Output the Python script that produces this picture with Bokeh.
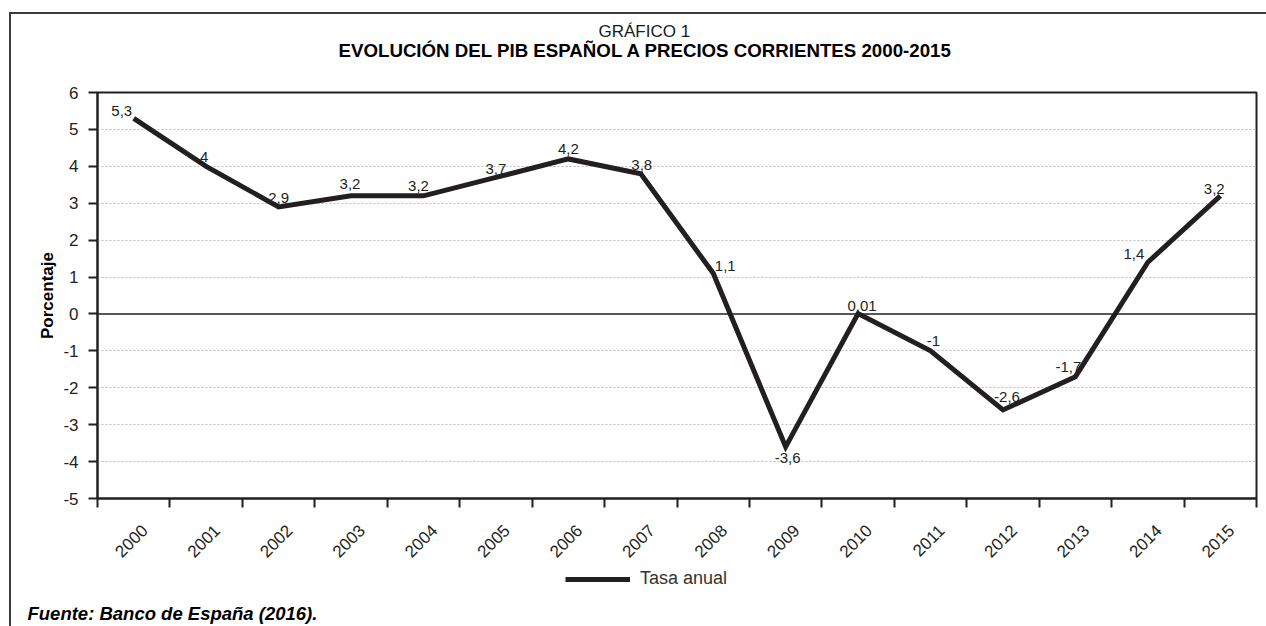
from math import pi
from bokeh.plotting import figure
from bokeh.layouts import column
from bokeh.models import (FixedTicker, Range1d, Span, Title, Label,
                          Legend, LegendItem, ColumnDataSource)
from bokeh.core.properties import value
from bokeh.embed import file_html
from bokeh.resources import INLINE

# ---------------- data ----------------
years = ["2000", "2001", "2002", "2003", "2004", "2005", "2006", "2007",
         "2008", "2009", "2010", "2011", "2012", "2013", "2014", "2015"]
tasa_anual = [5.3, 4, 2.9, 3.2, 3.2, 3.7, 4.2, 3.8, 1.1, -3.6, 0.01, -1,
              -2.6, -1.7, 1.4, 3.2]
y_ticks = [-5, -4, -3, -2, -1, 0, 1, 2, 3, 4, 5, 6]
title_top = "GRÁFICO 1"
title_main = "EVOLUCIÓN DEL PIB ESPAÑOL A PRECIOS CORRIENTES 2000-2015"
y_title = "Porcentaje"
series_name = "Tasa anual"
source_note = "Fuente: Banco de España (2016)."

# ---------------- label placement (style, pixels) ----------------
label_dx = [-12, -2, 0, -1, -5, 0, 0, 1, 12, 2, 4, 3, 4, -7, -14, -6]
label_gap = [7, 9, 9, 12, 10, 8, 10, 9, 7, 6, 8, 10, 13, 10, 8, 7]
labels_below = ["2009"]
TICK_LABEL_SHIFT = 0.15   # year labels sit slightly right of the category centre

FONT = "Liberation Sans"
INK = "#231f20"
BORDER = "#3c3c3c"
W, H = 1266, 626
H_FOOT = 61

idx = list(range(len(years)))
texts = [f"{v:g}".replace(".", ",") for v in tasa_anual]
below = [y in labels_below for y in years]
src = ColumnDataSource(dict(
    x=idx, y=tasa_anual, t=texts, dx=label_dx,
    dy=[g if b else -g for g, b in zip(label_gap, below)],
    base=["top" if b else "alphabetic" for b in below],
))

# ---------------- main chart ----------------
p = figure(width=W, height=H - H_FOOT, output_backend="svg", toolbar_location=None,
           x_range=Range1d(-0.5, len(years) - 0.5),
           y_range=Range1d(min(y_ticks), max(y_ticks)),
           min_border_left=97, min_border_right=10,
           min_border_top=92, min_border_bottom=H - H_FOOT - 499)
p.frame_align = False
p.background_fill_color = "white"
p.border_fill_color = None
p.outline_line_color = INK
p.outline_line_width = 2

# grid
p.xgrid.visible = False
p.ygrid.ticker = FixedTicker(ticks=[t for t in y_ticks if t not in (min(y_ticks), 0, max(y_ticks))])
p.ygrid.grid_line_color = "#bdbdbd"
p.ygrid.grid_line_dash = "2 2"
p.ygrid.grid_line_width = 1

# x axis: tick marks on category boundaries, labels near category centres
label_pos = [i + TICK_LABEL_SHIFT for i in idx]
xa = p.xaxis[0]
xa.ticker = FixedTicker(ticks=label_pos, minor_ticks=[i - 0.5 for i in range(len(years) + 1)])
xa.major_label_overrides = {pos: y for pos, y in zip(label_pos, years)}
xa.major_tick_in = 0
xa.major_tick_out = 0
xa.minor_tick_in = 0
xa.minor_tick_out = 9
xa.minor_tick_line_width = 2
xa.minor_tick_line_color = INK
xa.axis_line_color = INK
xa.axis_line_width = 2
xa.major_label_orientation = pi / 4
xa.major_label_standoff = 20
xa.major_label_text_font = FONT
xa.major_label_text_font_size = "17px"
xa.major_label_text_color = INK

# y axis
ya = p.yaxis[0]
ya.ticker = FixedTicker(ticks=y_ticks)
ya.major_label_overrides = {t: str(t) for t in y_ticks}
ya.major_tick_in = 0
ya.major_tick_out = 9
ya.major_tick_line_width = 2
ya.major_tick_line_color = INK
ya.minor_tick_line_color = None
ya.axis_line_color = INK
ya.axis_line_width = 2
ya.major_label_standoff = 10
ya.major_label_text_font = FONT
ya.major_label_text_font_size = "17px"
ya.major_label_text_color = INK
ya.axis_label = y_title
ya.axis_label_text_font = FONT
ya.axis_label_text_font_style = "bold"
ya.axis_label_text_font_size = "17px"
ya.axis_label_text_color = "#000000"
ya.axis_label_standoff = 3

# zero line
p.add_layout(Span(location=0, dimension="width", line_color=INK, line_width=1.5))

# series
LINE_STYLE = dict(line_width=5, line_color=INK, line_join="miter")
r = p.line("x", "y", source=src, **LINE_STYLE)
p.text("x", "y", text="t", source=src, x_offset="dx", y_offset="dy",
       text_align="center", text_baseline="base",
       text_font=value(FONT), text_font_size="15px", text_color=INK)

# titles (stacked above the frame: spacer, bold title, heading)
p.add_layout(Title(text=" ", text_font_size="10px", standoff=19), "above")
p.add_layout(Title(text=title_main, align="left", offset=241, text_font=FONT,
                   text_font_size="18.7px", text_font_style="bold",
                   text_color="#000000", standoff=0), "above")
p.add_layout(Title(text=title_top, align="left", offset=501, text_font=FONT,
                   text_font_size="17px", text_font_style="normal",
                   text_color="#1a1a1a", standoff=-6), "above")

# ---------------- footer strip: legend + source note ----------------
foot = figure(width=W, height=H_FOOT, output_backend="svg", toolbar_location=None,
              x_axis_location=None, y_axis_location=None,
              x_range=Range1d(0, W), y_range=Range1d(0, H_FOOT),
              min_border=0)
foot.frame_align = False
foot.grid.visible = False
foot.outline_line_color = None
foot.background_fill_color = None
foot.border_fill_color = None
# legend key renderer: same style as the series line, holds no drawable point
r_key = foot.line(x=[float("nan")], y=[float("nan")], **LINE_STYLE)
legend = Legend(items=[LegendItem(label=series_name, renderers=[r_key])],
                location=(565, 37), glyph_width=65, glyph_height=20,
                label_height=20, label_standoff=10, padding=0, margin=0,
                border_line_alpha=0, background_fill_alpha=0,
                label_text_font=FONT, label_text_font_size="18px",
                label_text_color="#333333")
foot.add_layout(legend)
foot.add_layout(Label(x=27, y=H_FOOT - 48, x_units="screen", y_units="screen",
                      text=source_note, text_align="left", text_baseline="alphabetic",
                      text_font=FONT, text_font_size="18.5px",
                      text_font_style="bold italic", text_color="#000000"))

page = column(p, foot, spacing=0)
# outer frame lines (top and left) drawn behind the transparent canvases
page.styles = {
    "background-color": "white",
    "background-image": f"linear-gradient({BORDER}, {BORDER}), linear-gradient({BORDER}, {BORDER})",
    "background-size": "1260px 2px, 2px 620px",
    "background-position": "9px 12px, 9px 12px",
    "background-repeat": "no-repeat",
}

open("out.html", "w").write(file_html(page, INLINE))
